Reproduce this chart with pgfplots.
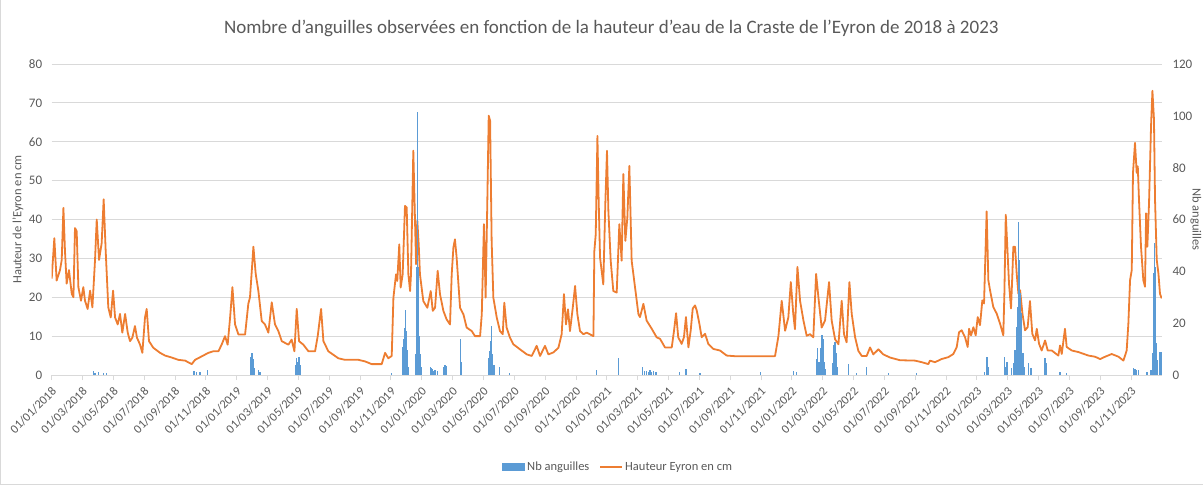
\documentclass[border=0pt]{standalone}
\usepackage{pgfplots}
\pgfplotsset{compat=1.18}
\usepackage{fontspec}
\setmainfont{Carlito}
\definecolor{eorange}{HTML}{ED7D31}
\definecolor{eblue}{HTML}{5B9BD5}
\definecolor{egrid}{HTML}{D9D9D9}
\definecolor{etext}{HTML}{595959}
\begin{document}
\begin{tikzpicture}
\pgfplotsset{
  common/.style={
    width=1110.3pt, height=311pt, scale only axis,
    at={(0,0)}, anchor=south west,
    xmin=0, xmax=72,
    /pgf/number format/assume math mode=true,
    ticklabel style={font=\fontsize{13}{15}\selectfont, text=etext},
    label style={font=\fontsize{12.5}{14}\selectfont, text=etext},
  }
}
\begin{axis}[common,
  ymin=0, ymax=80, ytick={0,10,...,80},
  axis x line*=bottom, axis y line*=left,
  separate axis lines,
  x axis line style={draw=egrid, line width=1pt, -},
  y axis line style={draw=none},
  ymajorgrids, grid style={egrid, line width=1pt},
  xtick={0,2,...,70},
  xticklabels={01/01/2018,01/03/2018,01/05/2018,01/07/2018,01/09/2018,01/11/2018,
    01/01/2019,01/03/2019,01/05/2019,01/07/2019,01/09/2019,01/11/2019,
    01/01/2020,01/03/2020,01/05/2020,01/07/2020,01/09/2020,01/11/2020,
    01/01/2021,01/03/2021,01/05/2021,01/07/2021,01/09/2021,01/11/2021,
    01/01/2022,01/03/2022,01/05/2022,01/07/2022,01/09/2022,01/11/2022,
    01/01/2023,01/03/2023,01/05/2023,01/07/2023,01/09/2023,01/11/2023},
  xtick style={draw=egrid, line width=1pt},
  ytick style={draw=none},
  tick align=outside, major tick length=5pt,
  xticklabel style={xshift=5pt, yshift=-7pt, rotate=45, anchor=east, font=\fontsize{12.3}{14}\selectfont},
  yticklabel style={xshift=-1pt},
  ylabel={Hauteur de l'Eyron en cm},
  ylabel style={at={(axis description cs:-0.0304,0.5)}, anchor=center},
  title={Nombre d'anguilles observées en fonction de la hauteur d'eau de la Craste de l'Eyron de 2018 à 2023},
  title style={at={(axis description cs:0.504,1.095)}, anchor=center, font=\fontsize{19}{22}\selectfont, text=etext},
]
\addplot[eorange, line width=1.8pt, line join=round] coordinates {
(0.00,24.8)(0.17,35.2)(0.32,24.3)(0.54,27)(0.65,29.6)(0.76,43)(0.86,32)(0.97,23.5)(1.12,27)(1.30,20.9)(1.41,20)(1.51,37.8)(1.62,37)(1.73,22.6)(1.90,19.1)(2.05,22.6)(2.16,19.1)(2.33,17)(2.49,21.7)(2.64,17.4)(2.81,29.6)(2.92,40)(3.07,29.6)(3.24,33.9)(3.37,45.2)(3.50,32)(3.67,17.4)(3.83,14.8)(3.98,21.7)(4.11,14.8)(4.28,13)(4.43,15.7)(4.58,10.9)(4.76,15.7)(4.93,10.9)(5.08,8.7)(5.23,9.6)(5.40,12.6)(5.53,9.6)(5.73,7.8)(5.88,5.7)(6.05,14.8)(6.16,17)(6.31,8.7)(6.59,7)(7.03,5.7)(7.35,5)(7.78,4.5)(8.21,3.9)(8.65,3.7)(9.08,2.8)(9.30,3.9)(9.73,4.8)(10.16,5.7)(10.48,6.1)(10.81,6.1)(11.02,7.8)(11.24,10)(11.41,7.8)(11.57,14.8)(11.72,22.6)(11.89,13)(12.11,10.4)(12.54,10.4)(12.75,18.3)(12.86,20)(13.08,33)(13.23,26)(13.40,21.7)(13.62,13.9)(13.83,13)(14.05,10.9)(14.27,18.7)(14.48,13)(14.70,11.3)(14.92,8.7)(15.35,7.8)(15.56,9.1)(15.74,6.1)(15.89,17)(16.04,8.7)(16.32,7.8)(16.65,6.1)(17.08,6.1)(17.25,10)(17.47,17)(17.62,8.7)(17.94,6.1)(18.59,4.3)(19.02,3.9)(19.89,3.9)(20.32,3.5)(20.75,2.8)(21.40,2.8)(21.62,5.7)(21.83,4.3)
(22.05,4.9)(22.16,19.9)(22.33,25.9)(22.41,24.2)(22.54,33.6)(22.63,22.5)(22.76,25.9)(22.91,43.5)(23.02,43.1)(23.13,25.9)(23.24,21.6)(23.30,25.9)(23.45,57.7)(23.56,39.7)(23.63,28.5)(23.71,39.7)(23.80,33.6)(23.88,25.9)(24.10,19)(24.36,17.3)(24.58,21.6)(24.71,16.5)(24.86,17.3)(25.03,26.8)(25.18,20.8)(25.40,16.5)(25.61,14.3)(25.83,13)(25.94,25.9)(26.05,32.8)(26.15,34.9)(26.26,30.2)(26.48,17.3)(26.70,15.6)(26.91,12.2)(27.24,11.3)(27.45,10)(27.78,10)(27.89,15.6)(28.03,38.8)(28.14,19.9)(28.25,44.8)(28.34,66.7)(28.43,65.4)(28.53,34.5)(28.64,19.9)(28.86,14.8)(29.07,11.3)(29.25,10.5)(29.35,18.6)(29.50,12.2)(29.72,9.6)(29.94,7.9)(30.37,6.6)(30.81,5.3)(31.13,4.9)(31.45,7.5)(31.67,4.9)(31.99,7.5)(32.21,5.3)(32.53,5.8)(32.86,7)(33.07,10.5)(33.22,20.8)(33.35,13)(33.48,16.9)(33.61,11.3)(33.79,17.3)(33.94,22.9)(34.09,15.6)(34.26,11.3)(34.48,10.5)(34.69,10.9)(35.13,10)(35.19,31.9)(35.28,36.2)(35.39,61.5)(35.47,44.8)(35.56,30.2)(35.77,23.3)(35.90,43.9)(36.01,57.7)(36.10,42.2)(36.25,29.4)(36.42,21.6)(36.64,21.2)(36.81,38.8)(36.96,29.4)(37.07,51.7)(37.20,34.5)(37.33,40.5)(37.46,53.8)(37.61,29.4)(37.83,22.5)(38.05,15.6)
(38.15,14.9)(38.37,18.3)(38.58,14)(38.91,11.9)(39.23,9.7)(39.45,9.3)(39.77,7.1)(40.21,7.1)(40.36,11.5)(40.49,15.9)(40.63,9.7)(40.85,8)(41.00,9.7)(41.13,14.9)(41.29,7.1)(41.44,11.5)(41.57,17.1)(41.72,17.9)(41.83,16.6)(42.00,13.2)(42.15,9.7)(42.37,10.6)(42.58,8)(42.91,6.7)(43.34,6.3)(43.77,5)(44.42,4.8)(45.50,4.8)(46.80,4.8)
(46.91,4.9)(47.13,10.1)(47.34,19.1)(47.56,11.4)(47.77,14.8)(47.93,23.9)(48.09,15.7)(48.20,11.8)(48.36,27.8)(48.53,19.1)(48.75,14)(48.96,10.1)(49.18,10.5)(49.39,9.7)(49.57,26)(49.72,20)(49.93,12.2)(50.15,14)(50.41,23.9)(50.58,14)(50.80,9.2)(51.02,7.9)(51.23,19.1)(51.38,10.5)(51.55,8.4)(51.73,23.9)(51.88,15.7)(52.10,9.7)(52.31,6.2)(52.53,4.9)(52.85,4.9)(53.07,7.1)(53.28,5.3)(53.61,6.6)(53.93,5.3)(54.36,4.5)(55.01,3.8)
(55.98,3.7)(56.42,3.3)(56.85,2.8)(56.95,3.7)(57.28,3.3)(57.71,4.1)(58.15,4.6)(58.47,5.4)(58.69,7.2)(58.84,11)(59.01,11.5)(59.23,9.7)(59.40,7.2)(59.49,11.9)(59.62,10.2)(59.77,12.3)(59.92,10.2)(60.05,14.9)(60.20,12.8)(60.35,19.2)(60.46,18.4)(60.63,42.1)(60.74,24.4)(60.85,21.8)(61.06,17.5)(61.28,15.8)(61.50,13.2)(61.71,10.2)(61.78,20.9)(61.87,41.2)(61.97,33)(62.08,23.5)(62.21,17.1)(62.30,26.1)(62.36,33)(62.47,33)(62.58,26)(62.69,20.9)(62.80,21.8)(62.95,15.8)(63.12,11.5)(63.29,12.3)(63.44,19)(63.59,10.6)(63.77,8.9)(63.88,11.9)(64.03,8)(64.20,6.3)(64.42,8.9)(64.59,6.3)(64.85,6.3)(65.28,5)(65.39,7.6)(65.50,5.4)(65.71,11.9)(65.82,7.2)(66.15,6.3)(66.58,5.9)(67.23,5)(67.66,4.7)(67.99,4.1)(68.31,4.7)(68.74,5.4)(69.18,4.7)(69.50,3.7)(69.71,6.3)(69.82,13.2)(69.93,24.4)(70.04,27)(70.12,52)(70.25,59.7)(70.36,52)(70.43,53.7)(70.51,45)(70.64,33)(70.79,24.4)(70.90,22.7)(70.97,41.6)(71.05,33)(71.16,44.2)(71.29,64)(71.38,73.1)(71.48,65.8)(71.55,45)(71.66,29.6)(71.77,26.1)(71.87,20.9)(71.98,19.7)
};
\end{axis}
\begin{axis}[common,
  ymin=0, ymax=120, ytick={0,20,...,120},
  axis x line=none, axis y line*=right,
  y axis line style={draw=none},
  ytick style={draw=none},
  yticklabel style={xshift=7pt},
  ylabel={Nb anguilles},
  ylabel style={at={(axis description cs:1.0306,0.5)}, anchor=center, rotate=180},
  legend columns=2,
  legend style={at={(axis description cs:0.51,-0.296)}, anchor=center, draw=none, fill=none,
    font=\fontsize{12.5}{14}\selectfont, text=etext,
    /tikz/every even column/.append style={column sep=8pt}},
]
\addplot[ycomb, eblue, line width=1.4pt,
  legend image code/.code={\fill[eblue] (0pt,-3.5pt) rectangle (22pt,3.5pt);}] coordinates {
(2.70,1.5)(2.81,0.7)(3.02,1)(3.35,0.9)(3.57,0.7)
(9.23,1.5)(9.40,1)(9.62,1)(10.12,2)
(12.93,7)(12.99,8.5)(13.06,6)(13.14,2.6)(13.40,2)(13.51,1.3)
(15.82,3.9)(15.89,6.5)(15.95,5)(16.04,7)(16.12,4)
(22.05,0.7)
(22.74,10.9)(22.80,14)(22.87,18)(22.96,25)(23.02,17)(23.09,9.5)(23.15,3)
(23.63,8)(23.67,41.8)(23.74,101.6)(23.80,41.8)(23.84,15)(23.90,8)(23.97,3)
(24.58,3.2)(24.64,2.8)(24.71,2.5)(24.78,1.5)(24.86,2)(25.01,1.5)
(25.40,3)(25.45,2.5)(25.51,4)(25.56,3)(25.62,3.5)
(26.52,14)(26.59,5)
(28.31,6.7)(28.38,9.3)(28.47,13)(28.53,19)(28.60,8)(28.68,4)
(29.03,3.2)(29.70,0.8)
(35.34,1.8)(36.77,6.5)
(38.33,3.2)(38.45,1.5)(38.59,1.7)(38.70,1.2)(38.80,1.9)(38.91,1.3)(39.02,1.7)(39.19,1.3)
(40.70,1.3)(41.13,2.2)(42.05,0.6)
(45.98,1.3)
(48.09,1.7)(48.30,1.3)
(49.61,6)(49.68,10.3)(49.77,5)(49.85,10.3)(49.94,15.4)(50.02,14)(50.10,5)(50.19,2.5)
(50.63,4.5)(50.71,11.6)(50.80,12.9)(50.86,8.4)(50.93,3.2)
(51.66,4.2)(52.20,0.7)(52.85,3.2)(54.25,0.6)(56.10,0.6)
(60.50,1.3)(60.64,7.1)(60.72,3.2)
(61.78,7.1)(61.87,3.2)(61.96,5.1)
(62.26,2.6)(62.36,4.5)(62.47,9.6)(62.55,18.6)(62.64,26.4)(62.71,59.2)(62.77,44.4)(62.84,31.5)(62.90,23.8)(62.99,8.4)(63.07,3.2)
(63.33,4.5)(63.50,2.6)(64.42,6.4)(64.48,4.5)(65.39,1.3)(65.80,0.6)
(70.15,2.6)(70.25,2.2)(70.36,1.9)(70.47,1.9)(70.99,1.3)(71.06,1.3)
(71.29,1.9)(71.38,8.4)(71.45,39.2)(71.51,50.8)(71.57,41.8)(71.64,12.2)(71.70,5.8)(71.88,9)(71.96,9)
};
\addlegendentry{Nb anguilles}
\addlegendimage{legend image code/.code={\draw[eorange, line width=1.8pt] (0pt,0pt) -- (22pt,0pt);}}
\addlegendentry{Hauteur Eyron en cm}
\end{axis}
\draw[egrid, line width=1pt] (-51.2pt,-109.5pt) -- (-51.2pt,374.5pt);
\draw[egrid, line width=1pt] (-51.2pt,-109.5pt) -- (1151.3pt,-109.5pt);
\pgfresetboundingbox
\path[use as bounding box] (-51.7pt,-110pt) rectangle (1151.3pt,375pt);
\end{tikzpicture}
\end{document}
